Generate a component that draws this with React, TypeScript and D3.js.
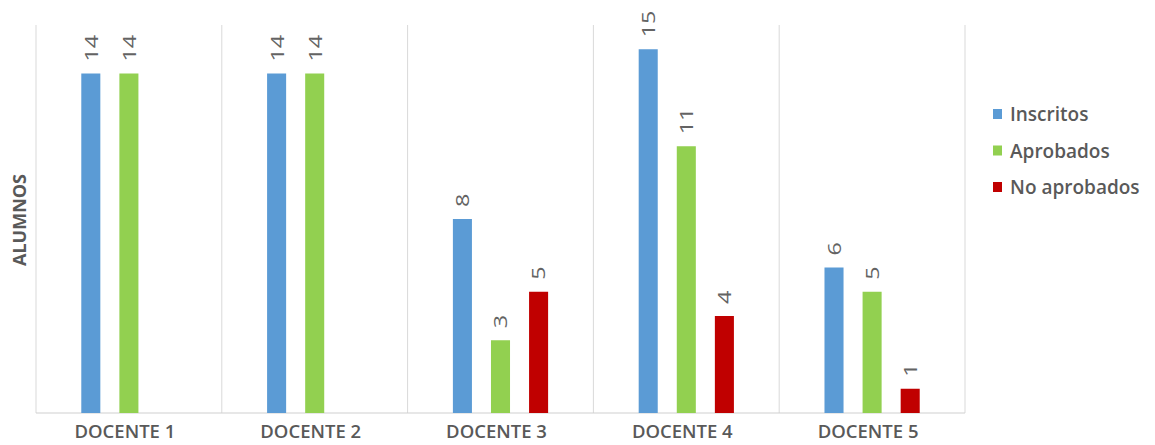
import React from "react";
import * as d3 from "d3";

const categories = ["DOCENTE 1", "DOCENTE 2", "DOCENTE 3", "DOCENTE 4", "DOCENTE 5"];
const seriesNames = ["Inscritos", "Aprobados", "No aprobados"];
const seriesColors = ["#5B9BD5", "#92D050", "#C00000"];
const inscritos: (number | null)[] = [14, 14, 8, 15, 6];
const aprobados: (number | null)[] = [14, 14, 3, 11, 5];
const noAprobados: (number | null)[] = [null, null, 5, 4, 1];
const yDomainMax = 16;
const yAxisTitle = "ALUMNOS";

const W = 1155;
const H = 445;
const plot = { left: 36, right: 965, top: 25, bottom: 413 };
const FONT = "'Open Sans', 'Liberation Sans', sans-serif";

export default function App() {
  const values = [inscritos, aprobados, noAprobados];

  const x0 = d3
    .scaleBand<string>()
    .domain(categories)
    .range([plot.left, plot.right])
    .paddingInner(0)
    .paddingOuter(0);

  const barW = x0.bandwidth() * 0.1025;
  const x1 = d3
    .scaleBand<string>()
    .domain(seriesNames)
    .range([-2.5 * barW, 2.5 * barW])
    .paddingInner(0.5)
    .paddingOuter(0);

  const y = d3.scaleLinear().domain([0, yDomainMax]).range([plot.bottom, plot.top]);

  const boundaries = [...categories.map((c) => x0(c) as number), plot.right];

  return (
    <div style={{ position: "absolute", left: 0, top: 0 }}>
      <svg width={W} height={H} style={{ display: "block", background: "#fff" }}>
        {/* category separators */}
        {boundaries.map((bx, i) => (
          <line
            key={"sep" + i}
            x1={bx}
            x2={bx}
            y1={plot.top}
            y2={plot.bottom}
            stroke="#D9D9D9"
            strokeWidth={1}
          />
        ))}
        {/* baseline */}
        <line
          x1={plot.left}
          x2={plot.right}
          y1={plot.bottom}
          y2={plot.bottom}
          stroke="#D0D0D0"
          strokeWidth={1.2}
        />

        {/* bars and value labels */}
        {categories.map((cat, ci) => {
          const cx = (x0(cat) as number) + x0.bandwidth() / 2;
          return (
            <g key={cat}>
              {seriesNames.map((s, si) => {
                const v = values[si][ci];
                if (v === null) return null;
                const bx = cx + (x1(s) as number);
                const top = y(v);
                const lx = bx + barW / 2;
                const ly = top - 12;
                return (
                  <g key={s}>
                    <rect
                      x={bx}
                      y={top}
                      width={barW}
                      height={plot.bottom - top}
                      fill={seriesColors[si]}
                    />
                    <text
                      transform={`translate(${lx},${ly}) rotate(-90) scale(1.3,1)`}
                      textAnchor="start"
                      dominantBaseline="central"
                      fontFamily={FONT}
                      fontSize={18}
                      fill="#636363"
                    >
                      {v}
                    </text>
                  </g>
                );
              })}
              <text
                x={cx - 4}
                y={438}
                textAnchor="middle"
                fontFamily={FONT}
                fontSize={18.5}
                fontWeight={600}
                fill="#595959"
              >
                {cat}
              </text>
            </g>
          );
        })}

        {/* y axis title */}
        <text
          transform={`translate(26,${(plot.top + plot.bottom) / 2 + 1}) rotate(-90)`}
          textAnchor="middle"
          fontFamily={FONT}
          fontSize={18}
          fontWeight={700}
          fill="#595959"
        >
          {yAxisTitle}
        </text>

        {/* legend */}
        {seriesNames.map((s, i) => {
          const ry = 114 + i * 36.5;
          return (
            <g key={"lg" + s}>
              <rect x={993} y={ry - 5} width={9} height={10} fill={seriesColors[i]} />
              <text
                x={1010}
                y={ry}
                dominantBaseline="central"
                fontFamily={FONT}
                fontSize={19}
                fontWeight={600}
                fill="#595959"
              >
                {s}
              </text>
            </g>
          );
        })}
      </svg>
    </div>
  );
}
